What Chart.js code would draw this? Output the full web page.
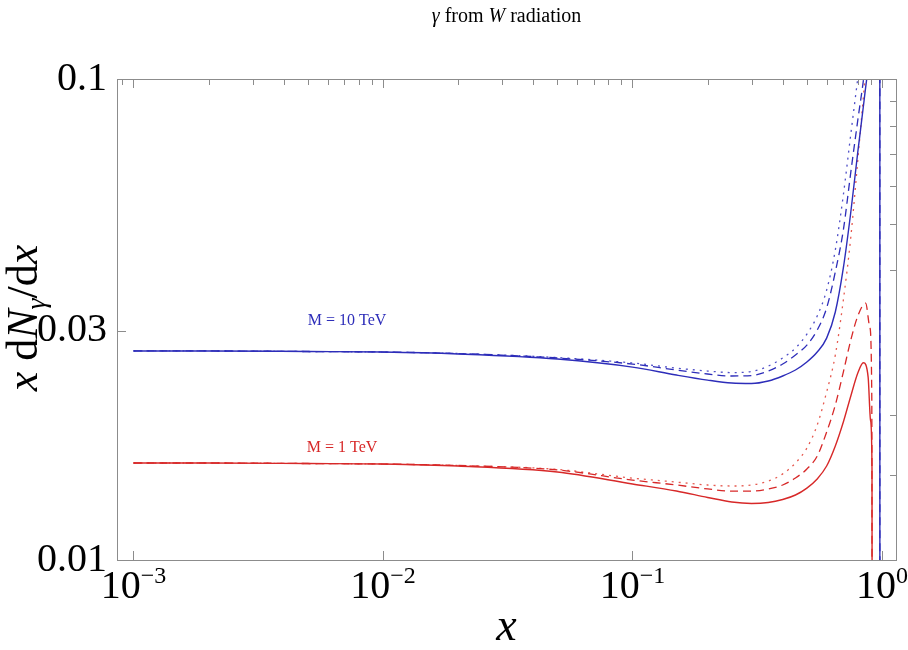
<!DOCTYPE html>
<html>
<head>
<meta charset="utf-8">
<script src="https://cdn.jsdelivr.net/npm/chart.js@4.4.1/dist/chart.umd.min.js"></script>
<style>
  html, body { margin: 0; padding: 0; background: #fff; }
  #wrap { width: 908px; height: 650px; }
</style>
</head>
<body>
<div id="wrap"><canvas id="chart" width="908" height="650"></canvas></div>
<script>
// x points shared by the curves (before the end region)
const xGrid = [0.001, 0.002, 0.005, 0.01, 0.02, 0.05, 0.1, 0.15, 0.2, 0.25, 0.3,
  0.35, 0.4, 0.45, 0.5, 0.55, 0.6, 0.65, 0.7, 0.75, 0.8];

// M = 10 TeV (blue)
const blueSolid = [0.0272, 0.0272, 0.02713, 0.02706, 0.02681, 0.02617, 0.02518, 0.02424, 0.02366, 0.02333, 0.02328,
  0.02356, 0.02413, 0.02483, 0.0258, 0.02706, 0.02893, 0.03278, 0.04047, 0.0529, 0.07053];
const blueSolidEndX = [0.85, 0.9, 0.95, 0.98, 0.981];
const blueSolidEndY = [0.09131, 0.1205, 0.2, 0.35, 0.0001];

const blueDashed = [0.0272, 0.0272, 0.02713, 0.02706, 0.02687, 0.0263, 0.02555, 0.02483, 0.02436, 0.02413, 0.02418,
  0.02471, 0.02555, 0.02668, 0.02798, 0.03007, 0.03342, 0.03971, 0.04854, 0.06405, 0.08219];
const blueDashedEndX = [0.85, 0.9, 0.95, 0.98, 0.981];
const blueDashedEndY = [0.1034, 0.14, 0.25, 0.4, 0.0001];

const blueDotted = [0.0272, 0.0272, 0.02713, 0.02706, 0.02687, 0.02636, 0.02568, 0.02506, 0.02471, 0.02453, 0.02465,
  0.02531, 0.0263, 0.02758, 0.02949, 0.03216, 0.0364, 0.0441, 0.05739, 0.07685, 0.1005];
const blueDottedEndX = [0.85, 0.9];
const blueDottedEndY = [0.1295, 0.17];

// M = 1 TeV (red)
const redSolid = [0.01591, 0.01591, 0.01587, 0.01583, 0.01568, 0.01524, 0.01439, 0.01391, 0.01349, 0.0132, 0.01311,
  0.01317, 0.01336, 0.01365, 0.01411, 0.01474, 0.01568, 0.01726, 0.01936, 0.02193, 0.02447];
const redSolidEndX = [0.842, 0.88, 0.9, 0.912, 0.9175];
const redSolidEndY = [0.0257, 0.024, 0.0195, 0.0155, 0.0001];

const redDashed = [0.01591, 0.01591, 0.01587, 0.01583, 0.01572, 0.01539, 0.01466, 0.01432, 0.01405, 0.01391, 0.01391,
  0.01405, 0.01432, 0.01481, 0.01546, 0.01645, 0.01845, 0.021, 0.02459, 0.02867, 0.03216];
const redDashedEndX = [0.86, 0.893, 0.91, 0.9175];
const redDashedEndY = [0.0342, 0.0305, 0.022, 0.0001];

const redDotted = [0.01591, 0.01591, 0.01587, 0.01583, 0.01572, 0.01543, 0.0148, 0.01452, 0.01432, 0.01425, 0.01432,
  0.01459, 0.0151, 0.01591, 0.01709, 0.01909, 0.02235, 0.02668, 0.03471, 0.04694, 0.06788];
const redDottedEndX = [0.85, 0.9];
const redDottedEndY = [0.09717, 0.14];

// axes
const xMin = 0.000859, xMax = 1.138;
const xTickExp = [-3, -2, -1, 0];
const yMin = 0.01, yMax = 0.1;
const yTickVals = [0.01, 0.03, 0.1];
const yTickLabels = ["0.01", "0.03", "0.1"];
const yMinorRight = [0.015, 0.02, 0.04, 0.05, 0.06, 0.07, 0.08, 0.09];

const SERIF = '"Liberation Serif", "DejaVu Serif", serif';
const BLUE = "rgb(45,45,185)";
const RED = "rgb(215,40,40)";
const FRAME = "#8c8c8c";

function pts(xs, ys) {
  return xs.map((x, i) => ({ x: x, y: ys[i] }));
}

function line(label, xs, ys, color, dash, width) {
  return {
    label: label,
    data: pts(xs, ys),
    borderColor: color,
    borderWidth: width || 1.3,
    borderDash: dash,
    pointRadius: 0,
    fill: false,
    cubicInterpolationMode: "monotone",
    clip: 0,
  };
}

// text with mixed pieces: [text, size, italic, dy]
function richWidth(ctx, parts) {
  let w = 0;
  parts.forEach((p) => {
    ctx.font = (p[2] ? "italic " : "") + p[1] + "px " + SERIF;
    w += ctx.measureText(p[0]).width;
  });
  return w;
}
function drawRich(ctx, parts, x, y) {
  let cx = x - richWidth(ctx, parts) / 2;
  parts.forEach((p) => {
    ctx.font = (p[2] ? "italic " : "") + p[1] + "px " + SERIF;
    ctx.fillText(p[0], cx, y + (p[3] || 0));
    cx += ctx.measureText(p[0]).width;
  });
}

const decor = {
  id: "decor",
  afterDraw(chart) {
    const ctx = chart.ctx;
    const a = chart.chartArea;
    const xs = chart.scales.x;
    const ys = chart.scales.y;
    ctx.save();

    // frame
    ctx.strokeStyle = FRAME;
    ctx.lineWidth = 1;
    ctx.strokeRect(Math.round(a.left) + 0.5, Math.round(a.top) + 0.5,
      Math.round(a.right - a.left), Math.round(a.bottom - a.top));

    // ticks pointing inward
    ctx.beginPath();
    for (let d = -4; d <= 0; d++) {
      for (let m = 1; m <= 9; m++) {
        const v = m * Math.pow(10, d);
        if (v < xMin || v > xMax) continue;
        const px = Math.round(xs.getPixelForValue(v)) + 0.5;
        ctx.moveTo(px, a.top);
        ctx.lineTo(px, a.top + (m === 1 ? 9 : 6));
        if (m === 1) {
          ctx.moveTo(px, a.bottom);
          ctx.lineTo(px, a.bottom - 9);
        }
      }
    }
    yMinorRight.forEach((v) => {
      const py = Math.round(ys.getPixelForValue(v)) + 0.5;
      ctx.moveTo(a.right, py);
      ctx.lineTo(a.right - 6, py);
    });
    const p03 = Math.round(ys.getPixelForValue(0.03)) + 0.5;
    ctx.moveTo(a.left, p03);
    ctx.lineTo(a.left + 9, p03);
    ctx.stroke();

    ctx.fillStyle = "#000";
    ctx.textBaseline = "alphabetic";

    // x tick labels 10^n
    xTickExp.forEach((e) => {
      const px = xs.getPixelForValue(Math.pow(10, e));
      const ex = e < 0 ? "\u2212" + (-e) : String(e);
      drawRich(ctx, [["10", 40, false, 0], [ex, 24, false, -15]], px, 598);
    });

    // title
    drawRich(ctx, [["\u03b3", 20, true, 0], [" from ", 20, false, 0], ["W", 20, true, 0], [" radiation", 20, false, 0]],
      (a.left + a.right) / 2, 22);

    // x axis title
    drawRich(ctx, [["x", 46, true, 0]], (a.left + a.right) / 2, 640);

    // y axis title (rotated)
    ctx.save();
    ctx.translate(37, 318);
    ctx.rotate(-Math.PI / 2);
    drawRich(ctx, [["x", 44, true, 0], [" d", 44, false, 0], ["N", 44, true, 0], ["\u03b3", 28, true, 8],
      ["/d", 44, false, 0], ["x", 44, true, 0]], 0, 0);
    ctx.restore();

    // curve labels
    ctx.fillStyle = BLUE;
    drawRich(ctx, [["M = 10 TeV", 16, false, 0]], 347, 325);
    ctx.fillStyle = RED;
    drawRich(ctx, [["M = 1 TeV", 16, false, 0]], 342, 452);

    ctx.restore();
  },
};

const ctx = document.getElementById("chart").getContext("2d");
new Chart(ctx, {
  type: "line",
  data: {
    datasets: [
      line("M = 10 TeV", xGrid.concat(blueSolidEndX), blueSolid.concat(blueSolidEndY), BLUE, [], 1.4),
      line("M = 10 TeV dashed", xGrid.concat(blueDashedEndX), blueDashed.concat(blueDashedEndY), BLUE, [8, 5]),
      line("M = 10 TeV dotted", xGrid.concat(blueDottedEndX), blueDotted.concat(blueDottedEndY), "rgb(80,80,200)", [2, 5]),
      line("M = 1 TeV", xGrid.concat(redSolidEndX), redSolid.concat(redSolidEndY), RED, [], 1.4),
      line("M = 1 TeV dashed", xGrid.concat(redDashedEndX), redDashed.concat(redDashedEndY), RED, [8, 5]),
      line("M = 1 TeV dotted", xGrid.concat(redDottedEndX), redDotted.concat(redDottedEndY), "rgb(230,90,80)", [2, 5]),
    ],
  },
  options: {
    responsive: false,
    animation: false,
    events: [],
    layout: { padding: { top: 79, right: 12, left: 0, bottom: 0 } },
    plugins: {
      legend: { display: false },
      tooltip: { enabled: false },
      title: { display: false },
    },
    scales: {
      x: {
        type: "logarithmic",
        min: xMin,
        max: xMax,
        ticks: { display: false },
        grid: { display: false },
        border: { display: false },
        afterFit: (s) => { s.height = 90; },
      },
      y: {
        type: "logarithmic",
        min: yMin,
        max: yMax,
        afterBuildTicks: (s) => { s.ticks = yTickVals.map((v) => ({ value: v })); },
        ticks: {
          autoSkip: false,
          color: "#000",
          padding: 2,
          font: { family: SERIF, size: 40 },
          callback: (v, i) => yTickLabels[i],
        },
        grid: { display: false },
        border: { display: false },
        afterFit: (s) => { s.width = 117; },
      },
    },
  },
  plugins: [decor],
});
</script>
</body>
</html>
